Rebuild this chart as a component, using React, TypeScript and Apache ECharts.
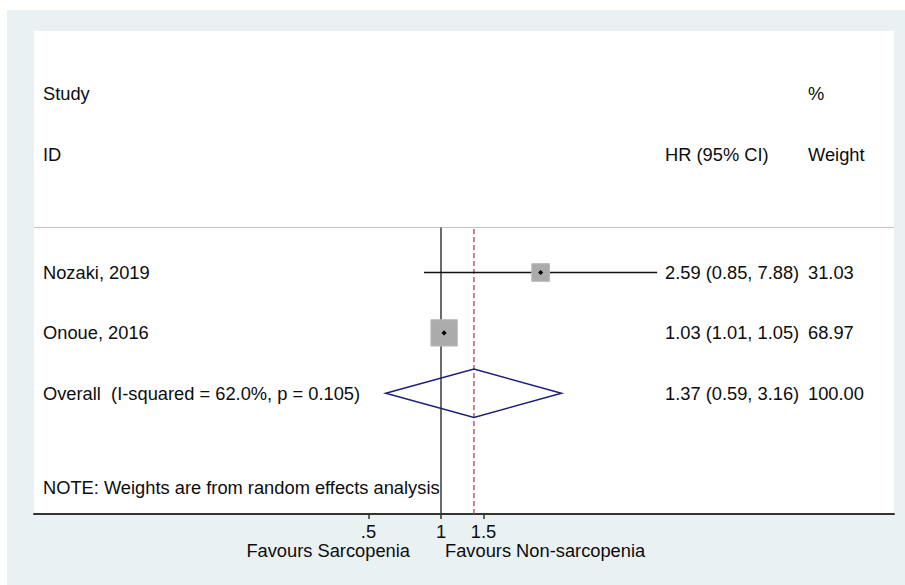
import React, { useEffect, useRef } from "react";
import * as echarts from "echarts";

// ---- data ----
const studies = ["Nozaki, 2019", "Onoue, 2016"];
const hr = [2.59, 1.03];
const ciLow = [0.85, 1.01];
const ciHigh = [7.88, 1.05];
const weights = [31.03, 68.97];
const studyRows = [4, 3];

const overallLabel = "Overall  (I-squared = 62.0%, p = 0.105)";
const overallHR = 1.37;
const overallLow = 0.59;
const overallHigh = 3.16;
const overallWeight = 100.0;
const overallRow = 2;

const xTicks = [0.5, 1, 1.5];
const xTickLabels = [".5", "1", "1.5"];
const nullValue = 1;

const FONT = "'Liberation Sans', Arial, Helvetica, sans-serif";
const FS = 18.3;
const TXT = "#0d0d0d";
const NAME_X = 43;
const CI_X = 665;
const W_X = 808;

const fmtCI = (h: number, l: number, u: number) =>
  `${h.toFixed(2)} (${l.toFixed(2)}, ${u.toFixed(2)})`;

function txt(text: string, x: number, y: number, align: string = "left") {
  return {
    type: "text",
    x,
    y,
    style: { text, fontSize: FS, fontFamily: FONT, fill: TXT, align, verticalAlign: "middle" },
  };
}

export default function App() {
  const ref = useRef<HTMLDivElement>(null);
  useEffect(() => {
    document.body.style.margin = "0";
    const chart = echarts.init(ref.current!, null, { renderer: "svg" });

    const studyData = studies.map((_, i) => [hr[i], ciLow[i], ciHigh[i], weights[i], studyRows[i], i]);

    const option: any = {
      animation: false,
      backgroundColor: "#E9F1F3",
      grid: {
        left: 34,
        right: 11,
        top: 31,
        bottom: 71,
        show: true,
        backgroundColor: "#ffffff",
        borderWidth: 0,
      },
      xAxis: {
        type: "log",
        logBase: 10,
        min: 0.0205,
        max: 75.7,
        splitLine: { show: false },
        axisLine: { show: true, onZero: false, lineStyle: { color: "#333", width: 2 } },
        axisTick: { show: true, customValues: xTicks, length: 5, lineStyle: { color: "#333", width: 1.5 } },
        axisLabel: {
          show: true,
          customValues: xTicks,
          margin: 8,
          fontSize: FS,
          fontFamily: FONT,
          color: TXT,
          formatter: (v: number) => {
            const idx = xTicks.findIndex((t) => Math.abs(t - v) < 1e-6);
            return idx >= 0 ? xTickLabels[idx] : "";
          },
        },
      },
      yAxis: { type: "value", min: 0, max: 8, show: false },
      graphic: [
        { type: "rect", shape: { x: 0, y: 0, width: 905, height: 10 }, style: { fill: "#fff" }, silent: true },
        { type: "rect", shape: { x: 0, y: 0, width: 7, height: 585 }, style: { fill: "#fff" }, silent: true },
        {
          type: "line",
          shape: { x1: 34, y1: 227.5, x2: 894, y2: 227.5 },
          style: { stroke: "#C4C4C4", lineWidth: 1 },
          silent: true,
        },
        txt("Study", NAME_X, 93),
        txt("ID", NAME_X, 154),
        txt("%", W_X, 93),
        txt("HR (95% CI)", CI_X, 154),
        txt("Weight", W_X, 154),
        txt("NOTE: Weights are from random effects analysis", NAME_X, 487),
        txt("Favours Sarcopenia", 410, 550, "right"),
        txt("Favours Non-sarcopenia", 445, 550, "left"),
      ],
      series: [
        {
          type: "custom",
          name: "refs",
          coordinateSystem: "cartesian2d",
          z: 1,
          data: [
            [nullValue, 0, 4.745, 0],
            [overallHR, 0, 4.745, 1],
          ],
          encode: { x: 0, y: [1, 2] },
          renderItem: (params: any, api: any) => {
            const v = api.value(0);
            const a = api.coord([v, api.value(1)]);
            const b = api.coord([v, api.value(2)]);
            const dashed = api.value(3) === 1;
            return {
              type: "line",
              shape: { x1: a[0], y1: a[1], x2: b[0], y2: b[1] },
              style: dashed
                ? { stroke: "#B8404F", lineWidth: 1.3, lineDash: [5, 3] }
                : { stroke: "#3a3a3a", lineWidth: 1.5 },
            };
          },
        },
        {
          type: "custom",
          name: "studies",
          coordinateSystem: "cartesian2d",
          z: 3,
          data: studyData,
          encode: { x: [0, 1, 2], y: 4 },
          renderItem: (params: any, api: any) => {
            const row = api.value(4);
            const i = api.value(5);
            const c = api.coord([api.value(0), row]);
            const l = api.coord([api.value(1), row]);
            const h = api.coord([api.value(2), row]);
            const s = 3.17 * Math.sqrt(api.value(3));
            const d = 2.6;
            return {
              type: "group",
              children: [
                {
                  type: "line",
                  shape: { x1: l[0], y1: l[1], x2: h[0], y2: h[1] },
                  style: { stroke: "#111", lineWidth: 1.5 },
                },
                {
                  type: "rect",
                  shape: { x: c[0] - s / 2, y: c[1] - s / 2, width: s, height: s },
                  style: { fill: "#ABABAB", stroke: "#B8B8B8", lineWidth: 1 },
                },
                {
                  type: "polygon",
                  shape: { points: [[c[0] - d, c[1]], [c[0], c[1] - d], [c[0] + d, c[1]], [c[0], c[1] + d]] },
                  style: { fill: "#000" },
                },
                txt(studies[i], NAME_X, c[1]),
                txt(fmtCI(hr[i], ciLow[i], ciHigh[i]), CI_X, c[1]),
                txt(weights[i].toFixed(2), W_X, c[1]),
              ],
            };
          },
        },
        {
          type: "custom",
          name: "overall",
          coordinateSystem: "cartesian2d",
          z: 3,
          data: [[overallHR, overallLow, overallHigh, overallWeight, overallRow]],
          encode: { x: [0, 1, 2], y: 4 },
          renderItem: (params: any, api: any) => {
            const row = api.value(4);
            const half = 0.4;
            const top = api.coord([api.value(0), row + half]);
            const bot = api.coord([api.value(0), row - half]);
            const l = api.coord([api.value(1), row]);
            const h = api.coord([api.value(2), row]);
            return {
              type: "group",
              children: [
                {
                  type: "polygon",
                  shape: { points: [l, top, h, bot] },
                  style: { fill: "none", stroke: "#1C1F78", lineWidth: 1.5 },
                },
                txt(overallLabel, NAME_X, l[1]),
                txt(fmtCI(api.value(0), api.value(1), api.value(2)), CI_X, l[1]),
                txt(api.value(3).toFixed(2), W_X, l[1]),
              ],
            };
          },
        },
      ],
    };
    chart.setOption(option);
    return () => chart.dispose();
  }, []);
  return <div ref={ref} style={{ position: "fixed", left: 0, top: 0, width: 905, height: 585 }} />;
}
